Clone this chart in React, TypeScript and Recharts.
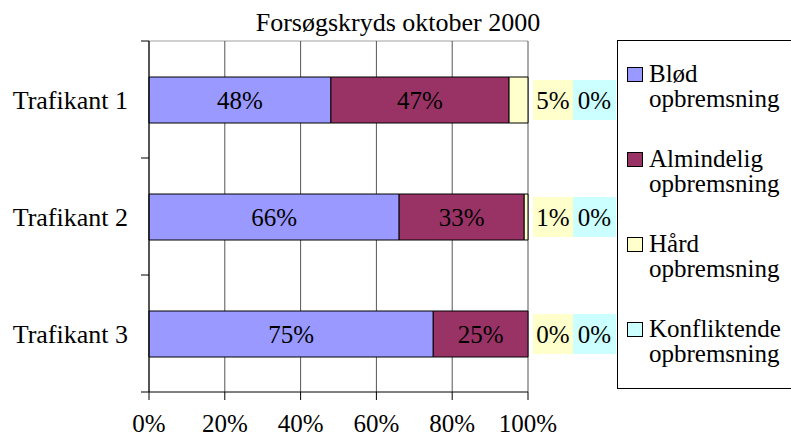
import React from "react";
import { BarChart, Bar, XAxis, YAxis, CartesianGrid, LabelList } from "recharts";

const categories = ["Trafikant 1", "Trafikant 2", "Trafikant 3"];
const blod = [48, 66, 75];
const almindelig = [47, 33, 25];
const hard = [5, 1, 0];
const konfliktende = [0, 0, 0];
const xTicks = [0, 20, 40, 60, 80, 100];

const series = [
  { key: "blod", lines: ["Blød", "opbremsning"], color: "#9999FF" },
  { key: "almindelig", lines: ["Almindelig", "opbremsning"], color: "#993366" },
  { key: "hard", lines: ["Hård", "opbremsning"], color: "#FFFFCC" },
  { key: "konfliktende", lines: ["Konfliktende", "opbremsning"], color: "#CCFFFF" },
];

const data = categories.map((name, i) => ({
  name,
  blod: blod[i],
  almindelig: almindelig[i],
  hard: hard[i],
  konfliktende: konfliktende[i],
}));

const W = 791;
const H = 437;
const TOP = 41;
const RIGHT = 263;
const X_AXIS_H = 45;
const Y_AXIS_W = 149;
const PLOT_H = H - TOP - X_AXIS_H;
const PLOT_W = W - Y_AXIS_W - RIGHT;
const FONT = '"Liberation Serif", "Times New Roman", serif';
const FS = 25;

const YTick = (props: any) => {
  const { y, payload, index } = props;
  const half = PLOT_H / categories.length / 2;
  return (
    <g>
      <line x1={Y_AXIS_W - 8} x2={Y_AXIS_W} y1={y - half} y2={y - half} stroke="#000" />
      {index === categories.length - 1 && (
        <line x1={Y_AXIS_W - 8} x2={Y_AXIS_W} y1={y + half} y2={y + half} stroke="#000" />
      )}
      <text
        x={Y_AXIS_W - 21}
        y={y}
        dy="0.355em"
        textAnchor="end"
        fontSize={26}
        fontFamily={FONT}
        fill="#000"
      >
        {payload.value}
      </text>
    </g>
  );
};

// small segments get their label outside the bar end, on a coloured box.
// hung on the first series so zero values still get a label
const outerLabel = (fill: string, shift: number, boxW: number) => (props: any) => {
  const { x, y, height, value } = props;
  const left = Number(x) + PLOT_W + shift;
  const cy = Number(y) + Number(height) / 2;
  return (
    <g>
      <rect x={left} y={cy - 20} width={boxW} height={40} fill={fill} />
      <text
        x={left + boxW / 2}
        y={cy}
        dy="0.355em"
        textAnchor="middle"
        fontSize={FS}
        fontFamily={FONT}
        fill="#000"
      >
        {value}%
      </text>
    </g>
  );
};

const App = () => {
  return (
    <div
      style={{
        position: "relative",
        width: W,
        height: H,
        overflow: "hidden",
        background: "#fff",
        fontFamily: FONT,
      }}
    >
      <style>{"body{margin:0}"}</style>
      <div
        style={{
          position: "absolute",
          top: 10,
          left: 0,
          width: 796,
          textAlign: "center",
          fontSize: 26,
          lineHeight: 1,
          color: "#000",
        }}
      >
        Forsøgskryds oktober 2000
      </div>

      <BarChart
        width={W}
        height={H}
        data={data}
        layout="vertical"
        barSize={46}
        margin={{ top: TOP, right: RIGHT, bottom: 0, left: 0 }}
      >
        <CartesianGrid
          vertical={false}
          horizontalCoordinatesGenerator={({ offset }: any) => [offset.top]}
          stroke="#a0a0a0"
        />
        <CartesianGrid horizontal={false} stroke="#555" />
        <XAxis
          type="number"
          domain={[0, 100]}
          ticks={xTicks}
          tickFormatter={(v) => `${v}%`}
          height={X_AXIS_H}
          tickSize={8}
          tickMargin={14}
          axisLine={{ stroke: "#000" }}
          tickLine={{ stroke: "#000" }}
          tick={{ fill: "#000", fontSize: FS, fontFamily: FONT }}
        />
        <YAxis
          type="category"
          dataKey="name"
          width={Y_AXIS_W}
          axisLine={{ stroke: "#000" }}
          tickLine={false}
          tick={<YTick />}
        />
        <Bar dataKey="blod" stackId="a" fill={series[0].color} stroke="#000" isAnimationActive={false}>
          <LabelList
            dataKey="blod"
            position="center"
            formatter={(v: any) => `${v}%`}
            fill="#000"
            fontSize={FS}
            fontFamily={FONT}
          />
          <LabelList dataKey="hard" content={outerLabel("#FFFFCC", 5, 40)} />
          <LabelList dataKey="konfliktende" content={outerLabel("#CCFFFF", 45, 43)} />
        </Bar>
        <Bar dataKey="almindelig" stackId="a" fill={series[1].color} stroke="#000" isAnimationActive={false}>
          <LabelList
            dataKey="almindelig"
            position="center"
            formatter={(v: any) => `${v}%`}
            fill="#000"
            fontSize={FS}
            fontFamily={FONT}
          />
        </Bar>
        <Bar dataKey="hard" stackId="a" fill={series[2].color} stroke="#000" isAnimationActive={false} />
        <Bar dataKey="konfliktende" stackId="a" fill={series[3].color} stroke="#000" isAnimationActive={false} />
      </BarChart>

      <div
        style={{
          position: "absolute",
          left: 617,
          top: 40,
          width: 220,
          height: 349,
          boxSizing: "border-box",
          border: "1px solid #000",
          background: "#fff",
        }}
      >
        {series.map((s, i) => (
          <div
            key={s.key}
            style={{
              position: "absolute",
              left: 9,
              top: 20 + i * 85,
              display: "flex",
              alignItems: "flex-start",
              fontSize: 25,
              lineHeight: "25px",
              color: "#000",
              whiteSpace: "nowrap",
            }}
          >
            <div
              style={{
                width: 16,
                height: 15,
                marginTop: 6,
                marginRight: 6,
                boxSizing: "border-box",
                border: "1px solid #000",
                background: s.color,
                flex: "none",
              }}
            />
            <div>
              {s.lines.map((l) => (
                <div key={l}>{l}</div>
              ))}
            </div>
          </div>
        ))}
      </div>
    </div>
  );
};

export default App;
